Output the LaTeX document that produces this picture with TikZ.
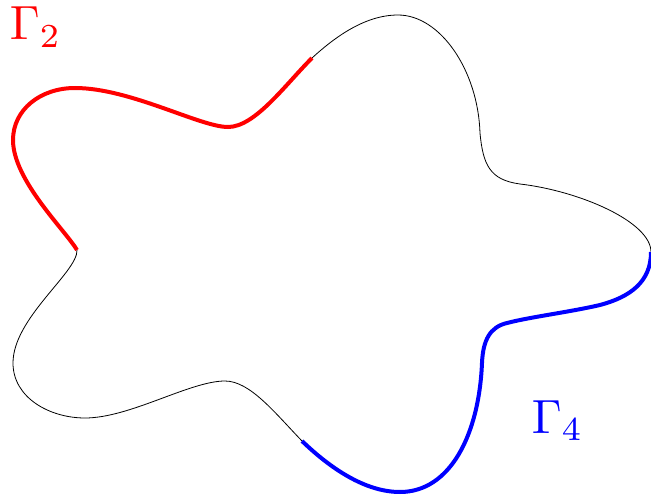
\documentclass[tikz,border=0pt]{standalone}
\begin{document}
\begin{tikzpicture}[x=0.75pt,y=-0.75pt,
  thin curve/.style={draw=black,line width=0.6pt},
  red arc/.style={draw=red,line width=3pt,line cap=butt},
  blue arc/.style={draw=blue,line width=3pt,line cap=butt},
  label/.style={inner sep=0pt,scale=3.6,anchor=base west}]
\useasboundingbox (0,0) rectangle (651,496);
% anchor points
\coordinate (A) at (312,58);
\coordinate (B) at (398,15);
\coordinate (C) at (480,133);
\coordinate (D) at (520,184);
\coordinate (E) at (651,252);
\coordinate (G) at (600,305);
\coordinate (H) at (507,323);
\coordinate (I) at (482,363);
\coordinate (J) at (400,492);
\coordinate (K) at (302,441);
\coordinate (L) at (225,381);
\coordinate (M) at (85,418);
\coordinate (N) at (13,363);
\coordinate (O) at (77,250);
\coordinate (P) at (13,140);
\coordinate (Q) at (75,88);
\coordinate (V) at (228,127);
% black thin parts
\draw[thin curve] (A) .. controls (335,37) and (365,15) .. (B)
  .. controls (440,15) and (478,70) .. (C)
  .. controls (483,165) and (490,180) .. (D)
  .. controls (580,191) and (651,222) .. (E);
\draw[thin curve] (K) .. controls (275,413) and (250,381) .. (L)
  .. controls (190,381) and (130,418) .. (M)
  .. controls (50,418) and (13,398) .. (N)
  .. controls (13,318) and (78,272) .. (O);
% red part
\draw[red arc] (O) .. controls (65,230) and (13,180) .. (P)
  .. controls (13,110) and (40,88) .. (Q)
  .. controls (130,88) and (200,127) .. (V)
  .. controls (255,127) and (285,85) .. (A);
% blue part
\draw[blue arc] (E) .. controls (651,282) and (630,297) .. (G)
  .. controls (570,312) and (530,317) .. (H)
  .. controls (490,327) and (483,340) .. (I)
  .. controls (479,435) and (450,492) .. (J)
  .. controls (365,492) and (330,468) .. (K);
% labels
\node[label,text=red] (g2) at (9,40) {$\Gamma_2$};
\node[label,text=blue] (g4) at (531,433) {$\Gamma_4$};
\end{tikzpicture}
\end{document}
